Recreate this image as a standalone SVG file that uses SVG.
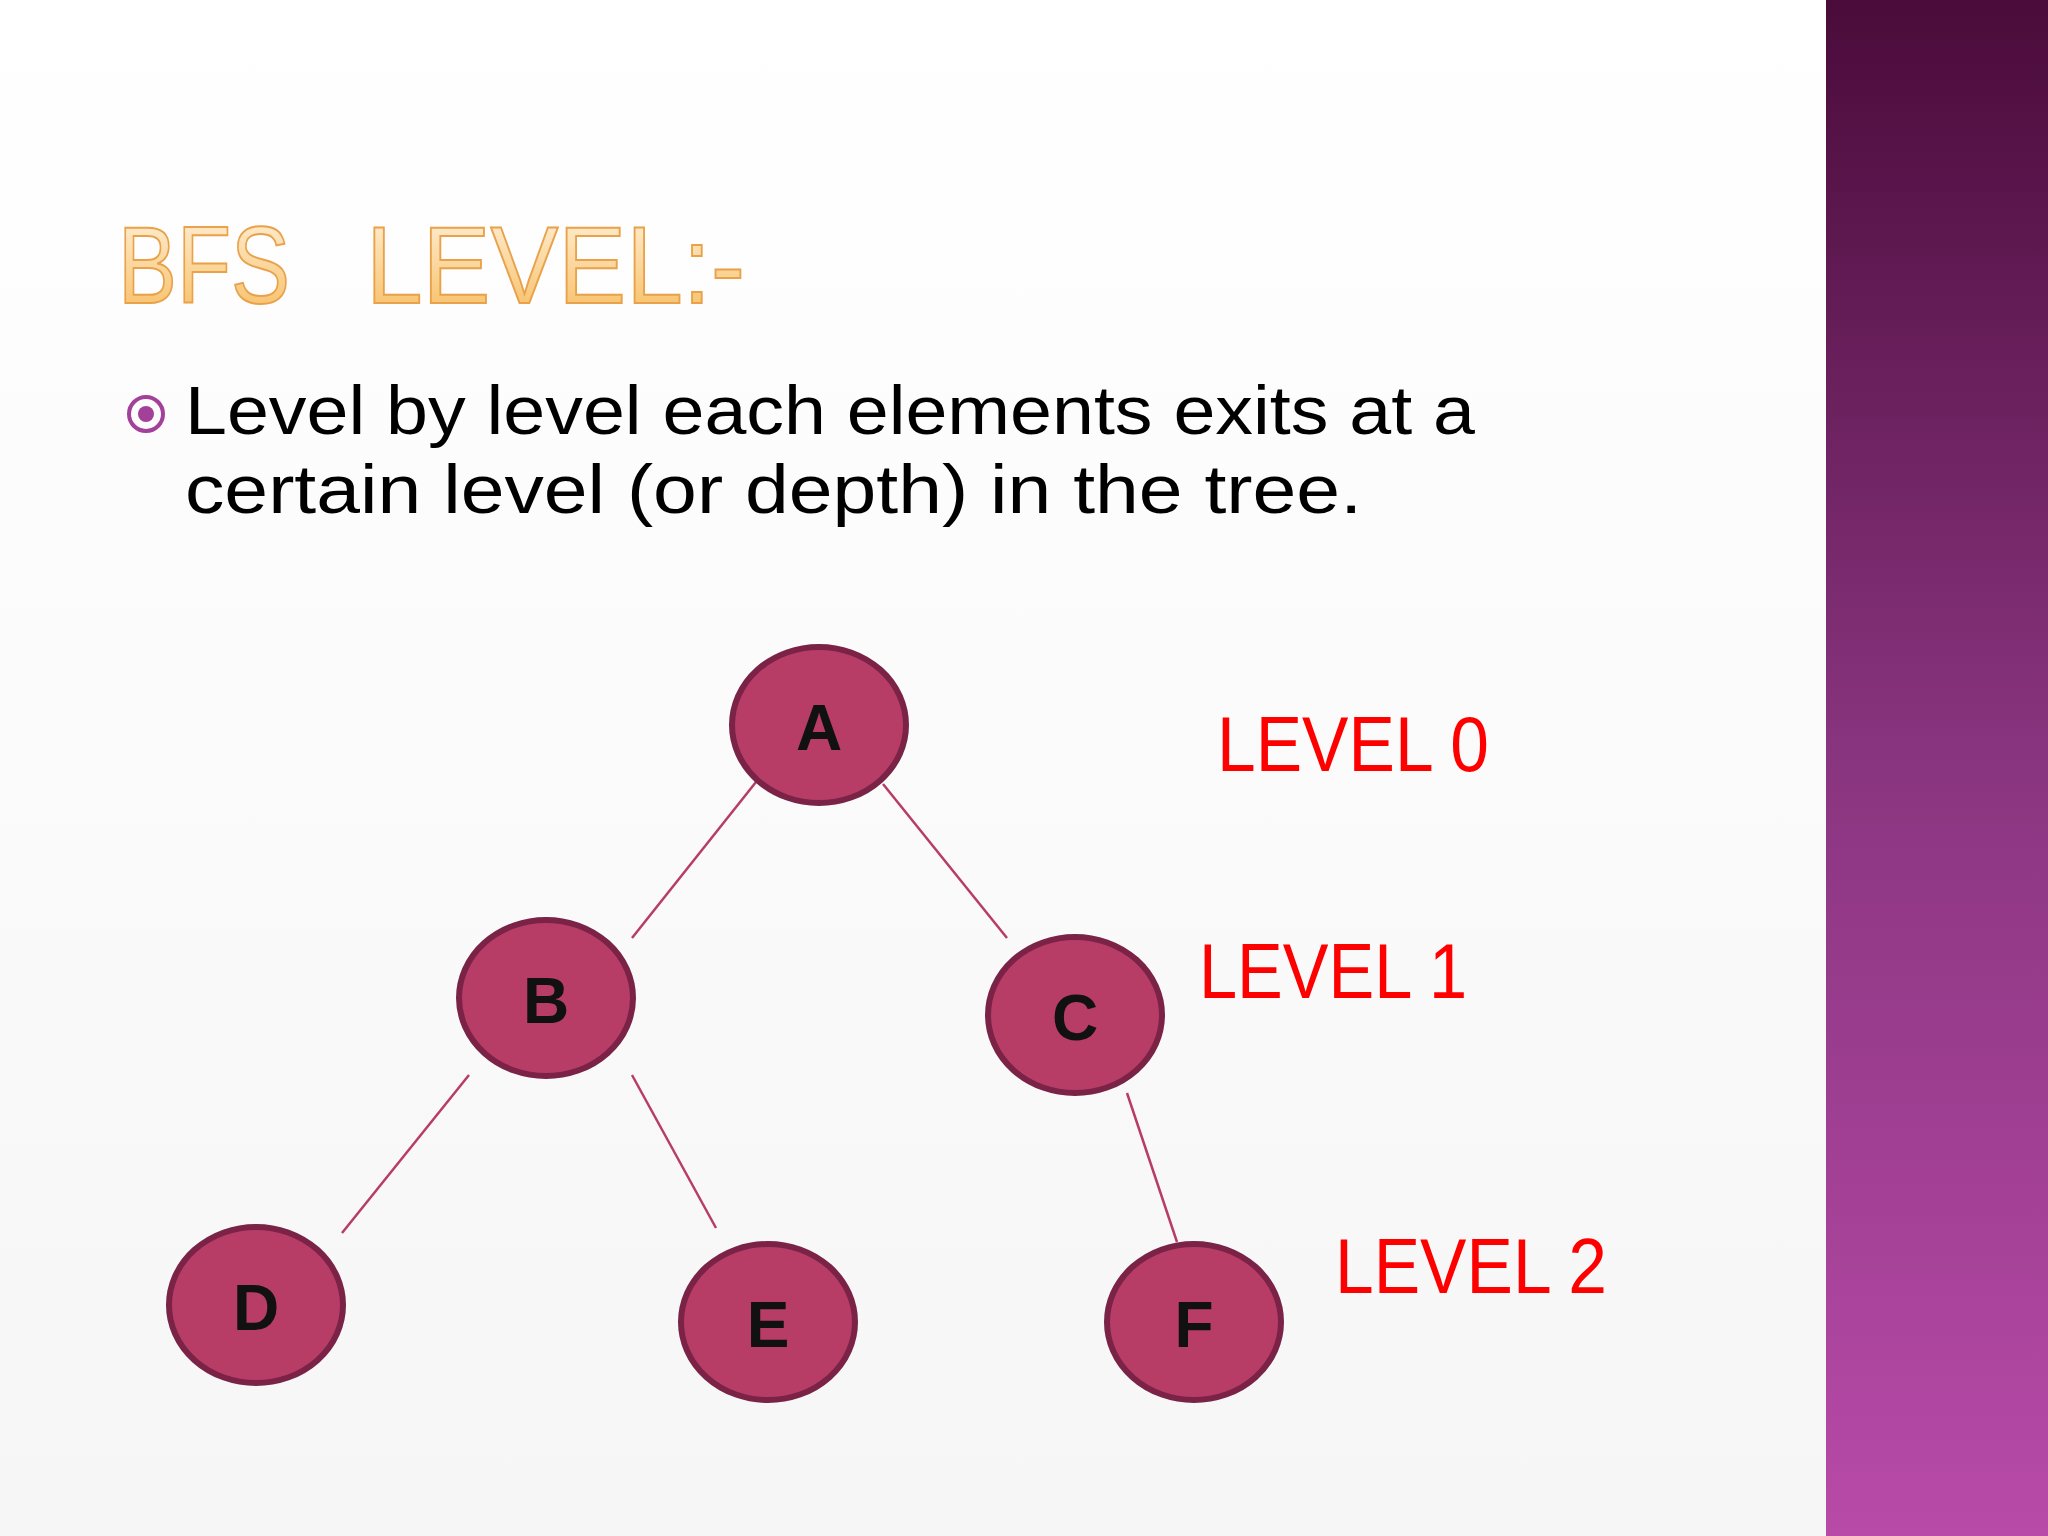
<svg xmlns="http://www.w3.org/2000/svg" width="2048" height="1536" viewBox="0 0 2048 1536">
<defs>
<linearGradient id="band" x1="0" y1="0" x2="0" y2="1"><stop offset="0" stop-color="#4a0b3a"/><stop offset="0.5" stop-color="#8a3580"/><stop offset="1" stop-color="#b84aa8"/></linearGradient>
<linearGradient id="tg" x1="0" y1="0" x2="0" y2="1"><stop offset="0" stop-color="#fff3df"/><stop offset="1" stop-color="#f6bb5c"/></linearGradient>
<linearGradient id="bg" x1="0" y1="0" x2="0" y2="1"><stop offset="0" stop-color="#ffffff"/><stop offset="1" stop-color="#f6f6f6"/></linearGradient>
<style>
.n ellipse{fill:#b73c66;stroke:#7a2346;stroke-width:6}
.n text{font-family:"Liberation Sans",Arial,sans-serif;font-weight:bold;font-size:64px;fill:#111;text-anchor:middle}
.lv{font-family:"Liberation Sans",Arial,sans-serif;font-size:78px;fill:#ff0000}
.tt{font-family:"Liberation Sans",Arial,sans-serif;font-size:110px;fill:url(#tg);stroke:#e9a24a;stroke-width:2}
#edges line{stroke:#b73c66;stroke-width:2.5}
</style>
</defs>
<rect width="2048" height="1536" fill="url(#bg)"/>
<rect x="1826" y="0" width="222" height="1536" fill="url(#band)"/>
<text class="tt" x="118" y="303"><tspan textLength="172" lengthAdjust="spacingAndGlyphs">BFS</tspan><tspan x="366" textLength="379" lengthAdjust="spacingAndGlyphs">LEVEL:-</tspan></text>
<circle cx="146" cy="414" r="17" fill="none" stroke="#a3409a" stroke-width="4"/>
<circle cx="146" cy="414" r="8" fill="#a3409a"/>
<g font-family="'Liberation Sans',Arial,sans-serif" font-size="68" fill="#000">
<text x="185" y="434" textLength="1290" lengthAdjust="spacingAndGlyphs">Level by level each elements exits at a</text>
<text x="185" y="513" textLength="1177" lengthAdjust="spacingAndGlyphs">certain level (or depth) in the tree.</text>
</g>
<g id="edges">
<line x1="756" y1="782" x2="632" y2="938"/>
<line x1="883" y1="784" x2="1007" y2="938"/>
<line x1="469" y1="1075" x2="342" y2="1233"/>
<line x1="632" y1="1075" x2="716" y2="1228"/>
<line x1="1127" y1="1093" x2="1177" y2="1242"/>
</g>
<g id="A" class="n"><ellipse cx="819" cy="725" rx="87" ry="78"/><text x="819" y="750">A</text></g>
<g id="B" class="n"><ellipse cx="546" cy="998" rx="87" ry="78"/><text x="546" y="1023">B</text></g>
<g id="C" class="n"><ellipse cx="1075" cy="1015" rx="87" ry="78"/><text x="1075" y="1040">C</text></g>
<g id="D" class="n"><ellipse cx="256" cy="1305" rx="87" ry="78"/><text x="256" y="1330">D</text></g>
<g id="E" class="n"><ellipse cx="768" cy="1322" rx="87" ry="78"/><text x="768" y="1347">E</text></g>
<g id="F" class="n"><ellipse cx="1194" cy="1322" rx="87" ry="78"/><text x="1194" y="1347">F</text></g>
<text class="lv" x="1217" y="771" textLength="272" lengthAdjust="spacingAndGlyphs">LEVEL 0</text>
<text class="lv" x="1199" y="998" textLength="268" lengthAdjust="spacingAndGlyphs">LEVEL 1</text>
<text class="lv" x="1335" y="1293" textLength="272" lengthAdjust="spacingAndGlyphs">LEVEL 2</text>
</svg>
